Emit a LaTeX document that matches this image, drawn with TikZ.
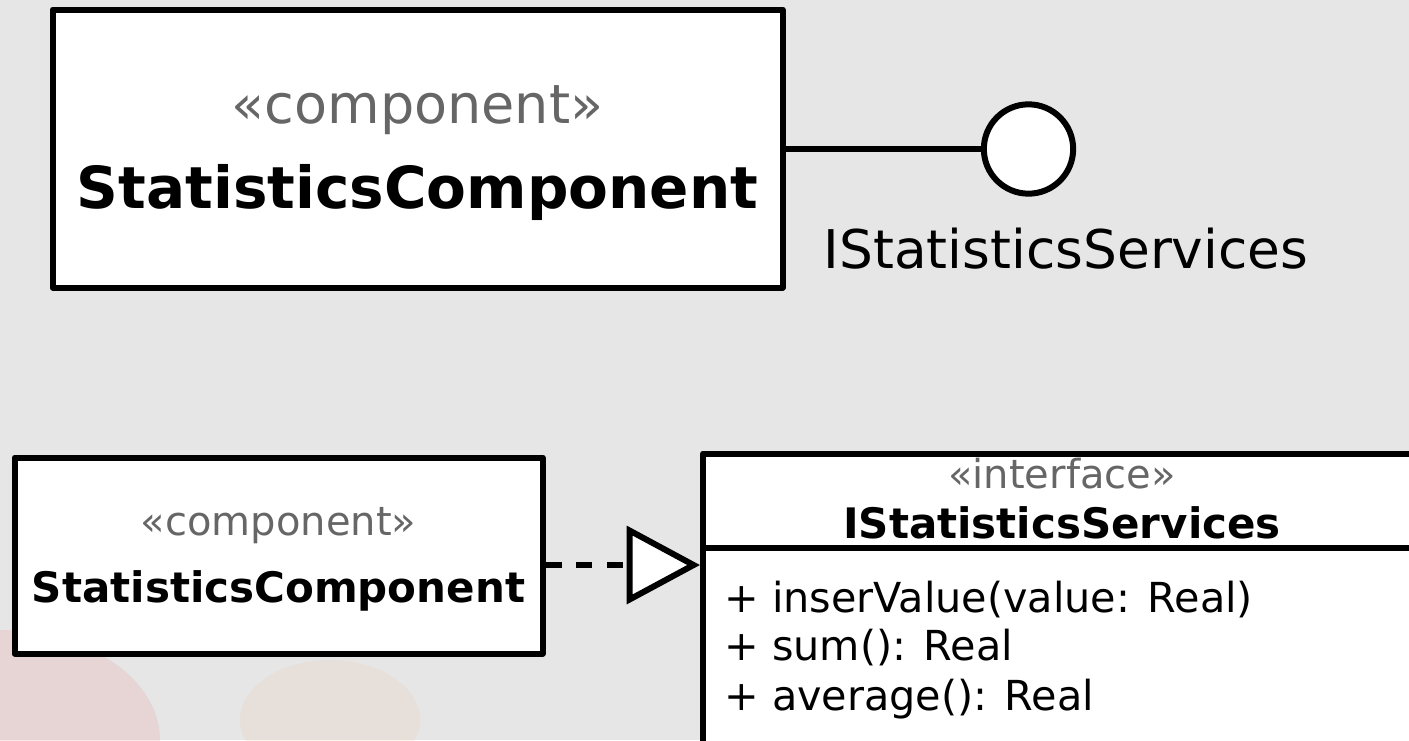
\documentclass[tikz,border=0pt]{standalone}
\usepackage{fontspec}
\setmainfont{DejaVu Sans}
\usetikzlibrary{arrows.meta,calc}
\definecolor{bgcol}{RGB}{230,230,230}
\definecolor{stereo}{RGB}{102,102,102}
\tikzset{
  box/.style={draw=black, fill=white, line width=4.5pt, rectangle, inner sep=0pt, line join=round},
  txt/.style={inner sep=0pt, anchor=base},
  stereotxt/.style={txt, text=stereo},
  conn/.style={draw=black, line width=4.5pt},
  dep/.style={draw=black, line width=5pt, dash pattern=on 12pt off 11pt,
    -{Triangle[length=55pt, width=58pt, fill=white, line width=4.5pt]}},
}
\begin{document}
\begin{tikzpicture}[x=0.75pt, y=-0.75pt]
\useasboundingbox (0,0) rectangle (1409,740);
\fill[bgcol] (0,0) rectangle (1409,740);
\fill[red!25!bgcol, opacity=0.3] (0,740) ellipse [x radius=160, y radius=110];
\fill[orange!20!bgcol, opacity=0.25] (330,720) ellipse [x radius=90, y radius=60];
% top component
\node[box, minimum width=547.5pt, minimum height=208.5pt] (c1) at (417.5,148.5) {};
\node[stereotxt, font=\fontsize{40.5}{48}\selectfont] (c1s) at (417.5,123) {«component»};
\node[txt, font=\fontsize{43.5}{52}\selectfont\bfseries] (c1n) at (417.5,208) {StatisticsComponent};
% lollipop
\node[draw=black, fill=white, line width=4.5pt, circle, minimum size=67pt, inner sep=0pt] (lol) at (1028.5,149) {};
\draw[conn] (c1.east |- lol.west) -- (lol.west);
\node[txt, font=\fontsize{40}{48}\selectfont] (loll) at (1066,268) {IStatisticsServices};
% bottom component
\node[box, minimum width=396pt, minimum height=147pt] (c2) at (278.5,555.5) {};
\node[stereotxt, font=\fontsize{30}{36}\selectfont] (c2s) at (278.5,535) {«component»};
\node[txt, font=\fontsize{31.5}{38}\selectfont\bfseries] (c2n) at (278.5,602) {StatisticsComponent};
% interface box
\node[box, anchor=north west, minimum width=600pt, minimum height=300pt] (iface) at (700,450.5) {};
\coordinate (sepL) at (700,548);
\coordinate (sepR) at (1430,548);
\draw[conn] (sepL) -- (sepR);
\node[stereotxt, font=\fontsize{30}{36}\selectfont] (ifs) at (1062,488) {«interface»};
\node[txt, font=\fontsize{31.5}{38}\selectfont\bfseries] (ifn) at (1062,538) {IStatisticsServices};
\node[txt, anchor=base west, font=\fontsize{31}{37}\selectfont] (op1) at (724,612) {+ inserValue(value: Real)};
\node[txt, anchor=base west, font=\fontsize{31}{37}\selectfont] (op2) at (724,660) {+ sum(): Real};
\node[txt, anchor=base west, font=\fontsize{31}{37}\selectfont] (op3) at (724,710) {+ average(): Real};
% dependency / realization
\coordinate (dA) at ($(c2.east)+(0,9.5)$);
\draw[dep] (dA) -- (dA -| iface.west);
\end{tikzpicture}
\end{document}
